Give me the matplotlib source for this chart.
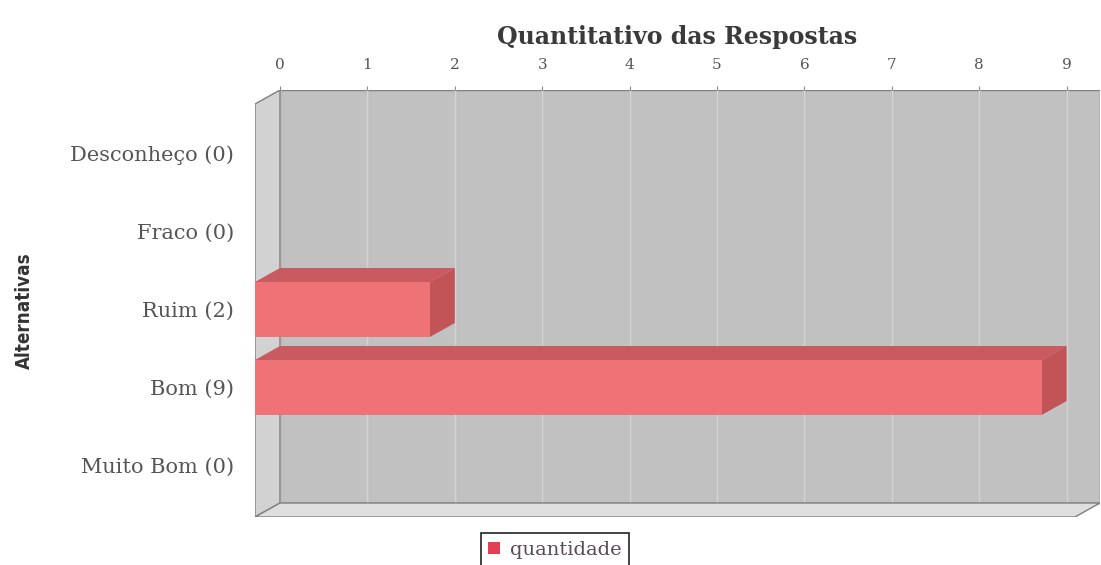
import matplotlib
matplotlib.use("Agg")
import matplotlib.pyplot as plt
from matplotlib.patches import Polygon, Rectangle, Patch

categories = ["Desconheço (0)", "Fraco (0)", "Ruim (2)", "Bom (9)", "Muito Bom (0)"]
values = [0, 0, 2, 9, 0]
xticks = [0, 1, 2, 3, 4, 5, 6, 7, 8, 9]
series_name = "quantidade"
xlabel = "Quantitativo das Respostas"
ylabel = "Alternativas"

W, H = 1101, 565
fig = plt.figure(figsize=(W / 100, H / 100), dpi=100)
fig.patch.set_facecolor("white")

# axes covering the whole 3D box (front + depth)
L, R, T, B = 255, 1100, 90, 517
ax = fig.add_axes([L / W, 1 - B / H, (R - L) / W, (B - T) / H])
ax.set_facecolor("none")

pxu = 87.4          # pixels per unit on x
pyc = 78.0          # pixels per category
dx = 25 / pxu       # depth offset in x units
dy = 14 / pyc       # depth offset in category units
c0 = 153.5          # pixel of first category centre
XR = (1075 - L) / pxu
YT = (104 - c0) / pyc
YB = (517 - c0) / pyc
ax.set_xlim(0, XR + dx)
ax.set_ylim(YB, YT - dy)

wall = "#c1c1c1"
side = "#d2d2d2"
floor = "#dedede"
edge = "#7f7f7f"

# back wall
ax.add_patch(Rectangle((dx, YT - dy), XR, YB - YT, facecolor=wall,
                       edgecolor=edge, lw=1, zorder=1))
# gridlines on the back wall
for v in xticks:
    ax.plot([v + dx, v + dx], [YT - dy, YB - dy], color="#d4d4d4", lw=1, zorder=1.5)
# left side wall
ax.add_patch(Polygon([(0, YT), (dx, YT - dy), (dx, YB - dy), (0, YB)],
                     closed=True, facecolor=side, edgecolor=edge, lw=1, zorder=2))
# floor
ax.add_patch(Polygon([(0, YB), (dx, YB - dy), (XR + dx, YB - dy), (XR, YB)],
                     closed=True, facecolor=floor, edgecolor=edge, lw=1, zorder=2))

front = "#ee7276"
topc = "#c95a5f"
sidec = "#c25458"
h = 55 / pyc
ypos = list(range(len(categories)))
ax.barh(ypos, values, height=h, left=0, color=front, edgecolor="none", zorder=4)
for y, v in zip(ypos, values):
    if v <= 0:
        continue
    yt = y - h / 2
    yb = y + h / 2
    ax.add_patch(Polygon([(0, yt), (dx, yt - dy), (v + dx, yt - dy), (v, yt)],
                         closed=True, facecolor=topc, edgecolor="none", zorder=3))
    ax.add_patch(Polygon([(v, yt), (v + dx, yt - dy), (v + dx, yb - dy), (v, yb)],
                         closed=True, facecolor=sidec, edgecolor="none", zorder=3))

for s in ax.spines.values():
    s.set_visible(False)

serif = ["DejaVu Serif"]
ax.xaxis.tick_top()
ax.xaxis.set_label_position("top")
ax.set_xticks([v + dx for v in xticks])
ax.set_xticklabels([str(v) for v in xticks], family=serif, fontsize=11, color="#555555")
ax.tick_params(axis="x", direction="out", length=3, width=0.8, color="#888888", pad=10)
ax.set_xlabel(xlabel, family=serif, fontsize=17, fontweight="bold", color="#3a3a3a", labelpad=10)

ax.set_yticks(ypos)
ax.set_yticklabels(categories, family=serif, fontsize=15, color="#555555")
ax.tick_params(axis="y", length=0, pad=15)

fig.text(24 / W, 1 - 311 / H, ylabel, rotation=90, ha="center", va="center",
         family=["DejaVu Sans"], fontstretch="condensed", fontweight="bold",
         fontsize=13.5, color="#333333")

leg = fig.legend(handles=[Patch(facecolor="#e0404f", edgecolor="none", label=series_name)],
                 loc="upper center", bbox_to_anchor=(555 / W, 1 - 533 / H),
                 prop={"family": serif, "size": 14}, fancybox=False, framealpha=1,
                 edgecolor="#222222", handlelength=0.6, handleheight=0.6,
                 handletextpad=0.5, borderpad=0.4, borderaxespad=0)
leg.get_frame().set_linewidth(1.2)
for t in leg.get_texts():
    t.set_color("#5a4a5a")

fig.savefig("out.png", dpi=100)
